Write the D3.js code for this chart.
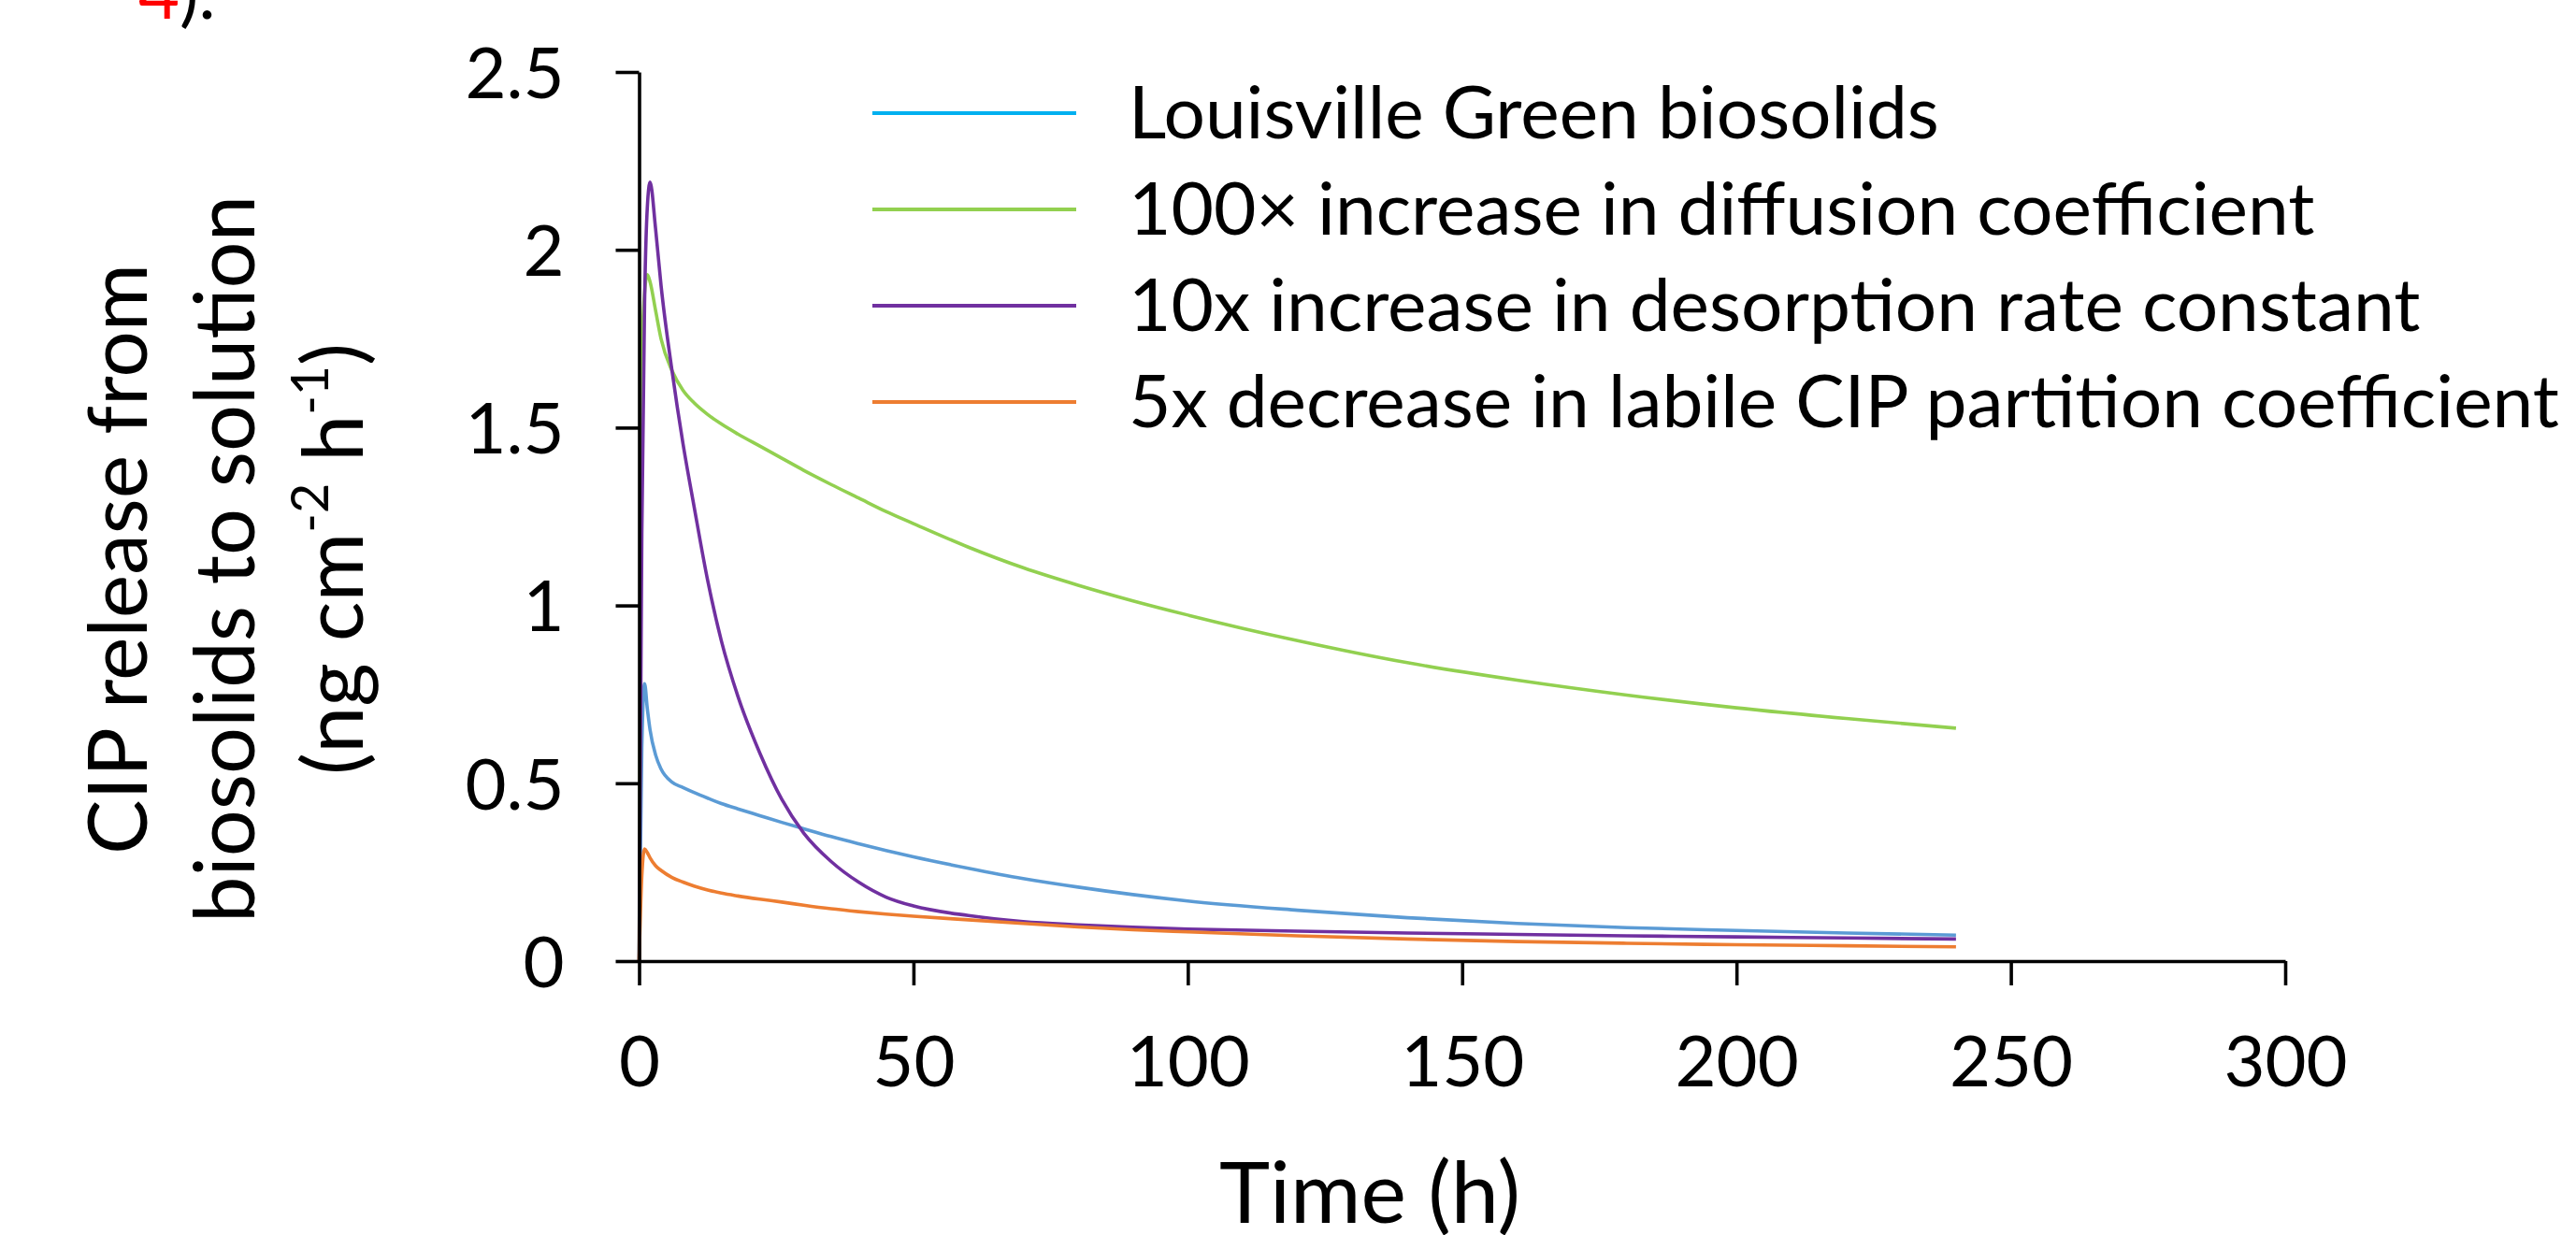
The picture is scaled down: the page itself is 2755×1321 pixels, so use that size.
<!DOCTYPE html>
<html>
<head>
<meta charset="utf-8">
<script src="https://cdn.jsdelivr.net/npm/d3@7"></script>
<style>
  body { margin: 0; background: #fff; }
  text { font-family: Lato, "Open Sans", sans-serif; fill: #000; }
</style>
</head>
<body>
<script>
// values (time in h, release in ng cm-2 h-1)
var hours = [0, 0.5, 1, 1.5, 2, 3, 4, 6, 8, 10, 12.5, 15, 18, 22, 26, 30, 35, 40, 45, 50,
             60, 70, 80, 90, 100, 120, 140, 160, 180, 200, 220, 240];

var louisville = [0, 0.60, 0.78, 0.71, 0.65, 0.58, 0.54, 0.503, 0.488, 0.474, 0.458, 0.443, 0.428, 0.409, 0.390, 0.372, 0.350, 0.330, 0.311, 0.293,
                  0.261, 0.232, 0.208, 0.187, 0.169, 0.143, 0.122, 0.106, 0.094, 0.086, 0.079, 0.073];
var diffusion100 = [0, 1.70, 1.88, 1.93, 1.91, 1.83, 1.75, 1.66, 1.605, 1.57, 1.537, 1.51, 1.482, 1.448, 1.414, 1.38, 1.34, 1.302, 1.264, 1.230,
                    1.164, 1.106, 1.057, 1.013, 0.973, 0.901, 0.839, 0.790, 0.748, 0.712, 0.682, 0.655];
var desorption10 = [0, 1.20, 1.85, 2.12, 2.19, 2.06, 1.90, 1.66, 1.455, 1.28, 1.07, 0.90, 0.745, 0.585, 0.455, 0.36, 0.28, 0.222, 0.180, 0.155,
                    0.128, 0.111, 0.102, 0.095, 0.090, 0.084, 0.079, 0.075, 0.071, 0.068, 0.065, 0.062];
var partition5 = [0, 0.24, 0.315, 0.305, 0.29, 0.268, 0.255, 0.235, 0.222, 0.211, 0.200, 0.191, 0.183, 0.174, 0.166, 0.157, 0.147, 0.139, 0.132, 0.126,
                  0.116, 0.106, 0.096, 0.088, 0.082, 0.071, 0.062, 0.055, 0.050, 0.046, 0.043, 0.040];

var seriesNames = ["Louisville Green biosolids",
                   "100\u00d7 increase in diffusion coefficient",
                   "10x increase in desorption rate constant",
                   "5x decrease in labile CIP partition coefficient"];
var lineColors = ["#5B9BD5", "#92D050", "#7030A0", "#ED7D31"];
var legendColors = ["#00B0F0", "#92D050", "#7030A0", "#ED7D31"];

var xTicks = [0, 50, 100, 150, 200, 250, 300];
var yTicks = [0, 0.5, 1, 1.5, 2, 2.5];

var W = 2755, H = 1321;

var svg = d3.select("body").append("svg")
    .attr("width", W)
    .attr("height", H);

var x = d3.scaleLinear().domain([0, 300]).range([683.5, 2444]);
var y = d3.scaleLinear().domain([0, 2.5]).range([1028, 77]);

// scale font size so the text spans the wanted width
function fitWidth(sel, target) {
  var w = sel.node().getComputedTextLength();
  var fs = parseFloat(sel.style("font-size"));
  var nfs = fs * target / w;
  sel.style("font-size", nfs + "px");
  return nfs;
}

// leftover caption from the page above
var cap = svg.append("text")
    .attr("x", 148)
    .attr("y", 20)
    .style("font-size", "76px");
cap.append("tspan").style("fill", "#FF0000").text("4");
cap.append("tspan").text(").");

// series lines
var series = [louisville, diffusion100, desorption10, partition5];

var line = d3.line()
    .x(function(d, i) { return x(hours[i]); })
    .y(function(d) { return y(d); })
    .curve(d3.curveMonotoneX);

svg.selectAll(".series")
    .data(series)
    .enter()
    .append("path")
    .attr("class", "series")
    .attr("fill", "none")
    .attr("stroke", function(d, i) { return lineColors[i]; })
    .attr("stroke-width", 3.6)
    .attr("stroke-linejoin", "round")
    .attr("d", line);

// axes
var yAxis = svg.append("g")
    .attr("transform", "translate(" + 683.5 + ",0)")
    .call(d3.axisLeft(y)
        .tickValues(yTicks)
        .tickSize(25)
        .tickSizeOuter(0)
        .tickPadding(55)
        .tickFormat(function(d) { return String(d); }));

var xAxis = svg.append("g")
    .attr("transform", "translate(0," + 1028 + ")")
    .call(d3.axisBottom(x)
        .tickValues(xTicks)
        .tickSize(26)
        .tickSizeOuter(0)
        .tickPadding(54)
        .tickFormat(function(d) { return String(d); }));

[xAxis, yAxis].forEach(function(g) {
  g.selectAll("path, line").attr("stroke", "#000").attr("stroke-width", 3.6);
  g.selectAll("text")
      .attr("fill", "#000")
      .style("font-family", "Lato, sans-serif")
      .style("font-size", "76px");
});
yAxis.selectAll("text").attr("dy", "0.36em");

// axis titles
var xTitle = svg.append("text")
    .attr("x", 1465)
    .attr("y", 1308)
    .attr("text-anchor", "middle")
    .style("font-size", "86px")
    .text("Time (h)");
fitWidth(xTitle, 322);

var yLine1 = svg.append("text")
    .attr("transform", "translate(157,598) rotate(-90)")
    .attr("text-anchor", "middle")
    .style("font-size", "86px")
    .text("CIP release from");
fitWidth(yLine1, 632);

var yLine2 = svg.append("text")
    .attr("transform", "translate(272,598) rotate(-90)")
    .attr("text-anchor", "middle")
    .style("font-size", "86px")
    .text("biosolids to solution");
var fs2 = fitWidth(yLine2, 778);

var yLine3 = svg.append("text")
    .attr("transform", "translate(388,598) rotate(-90)")
    .attr("text-anchor", "middle")
    .style("font-size", fs2 + "px");
yLine3.append("tspan").text("(ng cm");
yLine3.append("tspan").style("font-size", "62%").attr("dy", -0.42 * fs2).text("-2");
yLine3.append("tspan").attr("dy", 0.42 * fs2).text(" h");
yLine3.append("tspan").style("font-size", "62%").attr("dy", -0.42 * fs2).text("-1");
yLine3.append("tspan").attr("dy", 0.42 * fs2).text(")");
fitWidth(yLine3, 462);

// legend
var legendY = [121, 224, 327, 430];

var legend = svg.selectAll(".legend")
    .data(seriesNames)
    .enter()
    .append("g")
    .attr("class", "legend")
    .attr("transform", function(d, i) { return "translate(0," + legendY[i] + ")"; });

legend.append("line")
    .attr("x1", 933)
    .attr("x2", 1151)
    .attr("y1", 0)
    .attr("y2", 0)
    .attr("stroke", function(d, i) { return legendColors[i]; })
    .attr("stroke-width", 4);

var legendText = legend.append("text")
    .attr("x", 1207)
    .attr("y", 27)
    .style("font-size", "76px")
    .text(function(d) { return d; });

var longest = d3.select(legendText.nodes()[3]);
var lfs = fitWidth(longest, 1530);
legendText.style("font-size", lfs + "px");
</script>
</body>
</html>
